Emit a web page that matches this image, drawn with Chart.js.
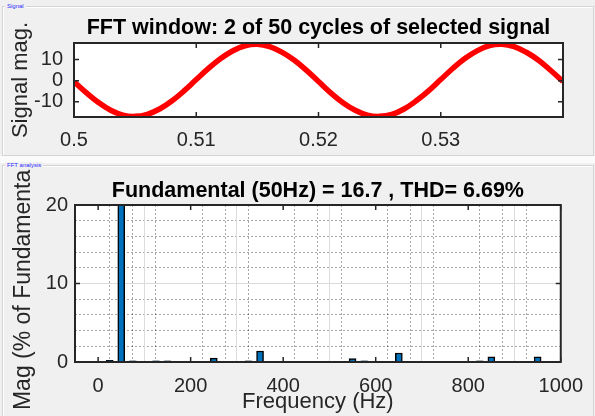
<!DOCTYPE html>
<html>
<head>
<meta charset="utf-8">
<script src="https://cdn.jsdelivr.net/npm/chart.js@4.4.1/dist/chart.umd.min.js"></script>
<style>
    html, body { margin: 0; padding: 0; width: 595px; height: 416px; overflow: hidden; background: #f0f0f0; }
    .panel { position: absolute; border: 1px solid #d4d4d4; box-shadow: inset 1px 1px 0 #ffffff; }
    .tag { position: absolute; z-index: 2; font: 6px 'Liberation Sans', Arial, sans-serif; color: #2b2bff; background: #f0f0f0; padding: 0 2px; line-height: 7px; }
    canvas { position: absolute; left: 0; }
</style>
</head>
<body>
<div class="panel" style="left:2px;top:6px;width:590px;height:148px;"></div>
<div class="tag" style="left:5px;top:3px;">Signal</div>
<div style="position:absolute;left:0;top:156px;width:595px;height:7px;background:#fbfbfb;"></div>
<div class="panel" style="left:2px;top:165px;width:590px;height:260px;"></div>
<div class="tag" style="left:5px;top:162px;">FFT analysis</div>
<canvas id="signalChart" width="595" height="156" style="top:0"></canvas>
<canvas id="fftChart" width="595" height="251" style="top:165px"></canvas>
<script>
// Signal window (s) and magnitude
const sigTime = [0.500, 0.501, 0.502, 0.503, 0.504, 0.505, 0.506, 0.507, 0.508, 0.509,
                 0.510, 0.511, 0.512, 0.513, 0.514, 0.515, 0.516, 0.517, 0.518, 0.519,
                 0.520, 0.521, 0.522, 0.523, 0.524, 0.525, 0.526, 0.527, 0.528, 0.529,
                 0.530, 0.531, 0.532, 0.533, 0.534, 0.535, 0.536, 0.537, 0.538, 0.539, 0.540];
const sigValue = [-0.5, -5.7, -10.4, -14.1, -16.4, -17.0, -16.0, -13.5, -9.7, -4.9,
                  0.5, 5.8, 10.5, 14.2, 16.6, 17.3, 16.2, 13.6, 9.8, 5.0,
                  -0.4, -5.8, -10.5, -14.1, -16.4, -17.0, -16.1, -13.5, -9.6, -4.9,
                  0.5, 5.9, 10.6, 14.3, 16.7, 17.3, 16.2, 13.5, 9.7, 4.8, -0.4];
const sigXTicks = [0.5, 0.51, 0.52, 0.53];
const sigXLabels = ['0.5', '0.51', '0.52', '0.53'];
const sigYTicks = [-10, 0, 10];
const sigYLabels = ['-10', '0', '10'];

// FFT harmonics (Hz) and magnitude in % of fundamental
const freqHz = [0, 25, 50, 75, 100, 125, 150, 175, 200, 225,
                250, 275, 300, 325, 350, 375, 400, 425, 450, 475,
                500, 525, 550, 575, 600, 625, 650, 675, 700, 725,
                750, 775, 800, 825, 850, 875, 900, 925, 950, 975, 1000];
const magPct = [0.05, 0.2, 100, 0.15, 0.03, 0.15, 0.15, 0.03, 0.03, 0.03,
                0.5, 0.03, 0.03, 0.15, 1.4, 0.03, 0.03, 0.03, 0.03, 0.03,
                0.03, 0.03, 0.45, 0.15, 0.03, 0.03, 1.15, 0.03, 0.03, 0.03,
                0.1, 0.03, 0.03, 0.15, 0.65, 0.03, 0.03, 0.03, 0.65, 0.03, 0.03];
const fftXTicks = [0, 200, 400, 600, 800, 1000];
const fftYTicks = [0, 10, 20];

const FONT = "'Liberation Sans', Arial, sans-serif";
const AXIS_COLOR = '#262626';

// MATLAB-like axes: white plot area, box and inward ticks
const matlabBox = {
    id: 'matlabBox',
    beforeDraw(chart) {
        const { ctx, chartArea: a } = chart;
        ctx.save();
        ctx.fillStyle = '#ffffff';
        ctx.fillRect(a.left, a.top, a.width, a.height);
        ctx.restore();
    },
    afterDatasetsDraw(chart) {
        const { ctx, chartArea: a, scales } = chart;
        ctx.save();
        ctx.strokeStyle = AXIS_COLOR;
        ctx.lineWidth = 1.5;
        ctx.beginPath();
        scales.x.ticks.forEach(t => {
            const px = scales.x.getPixelForValue(t.value);
            ctx.moveTo(px, a.bottom); ctx.lineTo(px, a.bottom - 5);
            ctx.moveTo(px, a.top); ctx.lineTo(px, a.top + 5);
        });
        scales.y.ticks.forEach(t => {
            const py = scales.y.getPixelForValue(t.value);
            ctx.moveTo(a.left, py); ctx.lineTo(a.left + 5, py);
            ctx.moveTo(a.right, py); ctx.lineTo(a.right - 5, py);
        });
        ctx.stroke();
        ctx.lineWidth = 2;
        ctx.strokeRect(a.left, a.top, a.width, a.height);
        ctx.restore();
    }
};

const fixSize = (w, h) => (scale) => {
    if (w !== null) scale.width = w;
    if (h !== null) scale.height = h;
};
const setTicks = (values) => (scale) => {
    scale.ticks = values.map(v => ({ value: v }));
};

// Top: signal window
new Chart(document.getElementById('signalChart'), {
    type: 'line',
    data: {
        datasets: [{
            data: sigTime.map((t, i) => ({ x: t, y: sigValue[i] })),
            borderColor: '#ff0000',
            borderWidth: 5.5,
            pointRadius: 0,
            tension: 0.4,
            fill: false
        }]
    },
    options: {
        responsive: false,
        animation: false,
        layout: { padding: { left: 0, right: 32, top: 0, bottom: 0 } },
        plugins: {
            legend: { display: false },
            tooltip: { enabled: false },
            title: {
                display: true,
                fullSize: false,
                text: 'FFT window: 2 of 50 cycles of selected signal',
                color: '#000000',
                font: { family: FONT, size: 21.5, weight: 'bold' },
                padding: { top: 15.6, bottom: 1.6 }
            }
        },
        scales: {
            x: {
                type: 'linear',
                min: 0.5,
                max: 0.54,
                afterBuildTicks: setTicks(sigXTicks),
                afterFit: fixSize(null, 39),
                grid: { display: false, drawTicks: false },
                border: { display: false },
                ticks: {
                    color: AXIS_COLOR,
                    padding: 11,
                    maxRotation: 0,
                    font: { family: FONT, size: 20 },
                    callback: (v, i) => sigXLabels[i]
                }
            },
            y: {
                min: -17.3,
                max: 17.9,
                afterBuildTicks: setTicks(sigYTicks),
                afterFit: fixSize(74, null),
                grid: { display: false, drawTicks: false },
                border: { display: false },
                ticks: {
                    color: AXIS_COLOR,
                    padding: 11,
                    font: { family: FONT, size: 20 },
                    callback: (v, i) => sigYLabels[i]
                },
                title: {
                    display: true,
                    text: 'Signal mag.',
                    color: AXIS_COLOR,
                    font: { family: FONT, size: 22 },
                    padding: { top: 8, bottom: 0 }
                }
            }
        }
    },
    plugins: [matlabBox]
});

// Bottom: FFT analysis
new Chart(document.getElementById('fftChart'), {
    type: 'bar',
    data: {
        datasets: [{
            data: freqHz.map((f, i) => ({ x: f, y: magPct[i] })),
            backgroundColor: '#0072bd',
            borderColor: '#000000',
            borderWidth: 1.5,
            barThickness: 7
        }]
    },
    options: {
        responsive: false,
        animation: false,
        layout: { padding: { left: 0, right: 33, top: 0, bottom: 0 } },
        plugins: {
            legend: { display: false },
            tooltip: { enabled: false },
            title: {
                display: true,
                fullSize: false,
                text: 'Fundamental (50Hz) = 16.7 , THD= 6.69%',
                color: '#000000',
                font: { family: FONT, size: 21.5, weight: 'bold' },
                padding: { top: 13, bottom: 1.2 }
            }
        },
        scales: {
            xMinor: {
                type: 'linear',
                position: 'bottom',
                min: -50,
                max: 1000,
                offset: false,
                afterFit: fixSize(null, 0),
                ticks: { display: false, stepSize: 50 },
                grid: {
                    drawTicks: false,
                    lineWidth: 1,
                    color: (c) => (c.tick && c.tick.value % 200 !== 0 ? 'rgba(0,0,0,0.35)' : 'rgba(0,0,0,0)')
                },
                border: { display: false, dash: [2, 2] }
            },
            yMinor: {
                type: 'linear',
                position: 'left',
                min: 0,
                max: 20,
                afterFit: fixSize(0, null),
                ticks: { display: false, stepSize: 2 },
                grid: {
                    drawTicks: false,
                    lineWidth: 1,
                    color: (c) => (c.tick && c.tick.value % 10 !== 0 ? 'rgba(0,0,0,0.35)' : 'rgba(0,0,0,0)')
                },
                border: { display: false, dash: [2, 2] }
            },
            x: {
                type: 'linear',
                position: 'bottom',
                min: -50,
                max: 1000,
                offset: false,
                afterBuildTicks: setTicks(fftXTicks),
                afterFit: fixSize(null, 54),
                grid: { color: '#dcdcdc', lineWidth: 1, drawTicks: false },
                border: { display: false },
                ticks: {
                    color: AXIS_COLOR,
                    padding: 12,
                    maxRotation: 0,
                    font: { family: FONT, size: 20 },
                    callback: (v) => String(v)
                },
                title: {
                    display: true,
                    text: 'Frequency (Hz)',
                    color: AXIS_COLOR,
                    font: { family: FONT, size: 22 },
                    padding: { top: 0, bottom: 0.5 }
                }
            },
            y: {
                min: 0,
                max: 20,
                afterBuildTicks: setTicks(fftYTicks),
                afterFit: fixSize(75, null),
                grid: { color: '#dcdcdc', lineWidth: 1, drawTicks: false },
                border: { display: false },
                ticks: {
                    color: AXIS_COLOR,
                    padding: 7,
                    font: { family: FONT, size: 20 },
                    callback: (v) => String(v)
                },
                title: {
                    display: true,
                    text: 'Mag (% of Fundamental)',
                    color: AXIS_COLOR,
                    font: { family: FONT, size: 23 },
                    padding: { top: 10, bottom: 0 }
                }
            }
        }
    },
    plugins: [matlabBox]
});
</script>
</body>
</html>
